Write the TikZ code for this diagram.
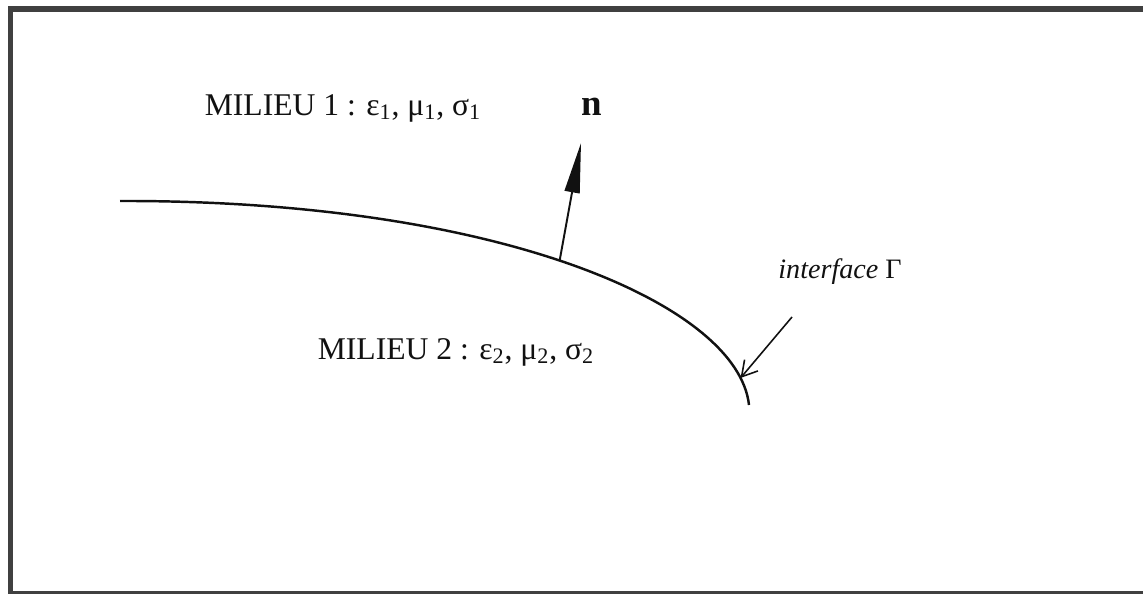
\documentclass[tikz,border=0pt]{standalone}
\usepackage{fontspec}
\setmainfont{Liberation Serif}
\usepackage{tikz}
\usetikzlibrary{arrows.meta,positioning,calc}
\definecolor{framegray}{HTML}{404040}
\definecolor{ink}{HTML}{111111}
\tikzset{
  milieulabel/.style={
    font=\fontsize{18}{20}\selectfont, text=ink,
    inner sep=0pt, anchor=center
  },
  normallabel/.style={
    font=\fontsize{21}{24}\selectfont\bfseries, text=ink, inner sep=0pt
  },
  ifacelabel/.style={
    font=\fontsize{16}{18}\selectfont\itshape, text=ink, inner sep=0pt
  },
  interfaceline/.style={
    draw=ink, line width=1.4pt
  },
  normalarrow/.style={
    -{Triangle[length=1cm,width=0.3cm]}, draw=ink, line width=1.1pt
  },
  pointerarrow/.style={
    -{Straight Barb[length=0.3cm,width=0.35cm]}, draw=ink, line width=0.9pt
  },
}

\begin{document}
\begin{tikzpicture}[x=0.02cm,y=-0.02cm]
\useasboundingbox (0,0) rectangle (1143,594);
\fill[framegray] (8,6) rectangle (1143,12);
\fill[framegray] (8,6) rectangle (13,594);
\fill[framegray] (8,591) rectangle (1143,594);
\coordinate (start) at (120,201);
\coordinate (finish) at (749,405);
\draw[interfaceline] (start) .. controls (500,200) and (738,305) .. (finish)
  coordinate[pos=0.48] (foot) coordinate[pos=0.91] (hit);
\node[milieulabel] (milieuA) at (343,108)
  {MILIEU 1 : ε\textsubscript{1}, μ\textsubscript{1}, σ\textsubscript{1}};
\node[milieulabel] (milieuB) at (456,352)
  {MILIEU 2 : ε\textsubscript{2}, μ\textsubscript{2}, σ\textsubscript{2}};
\node[normallabel] (normal) at (592,107) {n};
\node[ifacelabel] (iface) at (840,272) {interface {\upshape Γ}};
\coordinate (tip) at (581,143);
\coordinate (tail) at (792,317);
\draw[normalarrow] (foot) -- (tip);
\draw[pointerarrow] (tail) -- (hit);
\end{tikzpicture}
\end{document}
